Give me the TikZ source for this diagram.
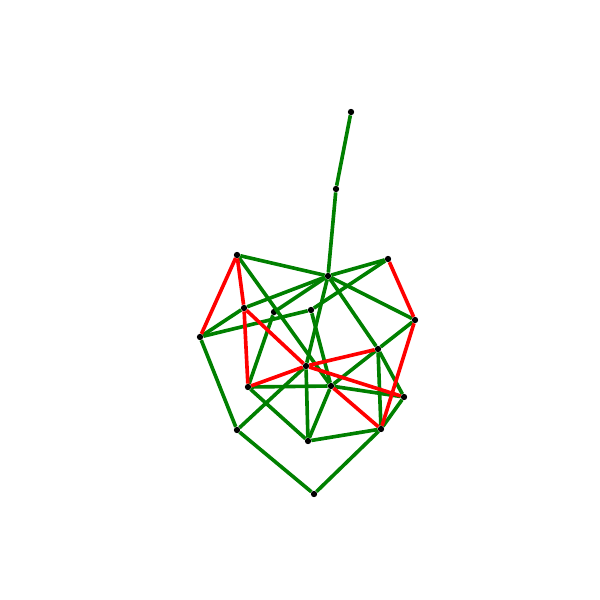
\documentclass[tikz,border=0pt]{standalone}
\usepackage{tikz}

\definecolor{edgegreen}{RGB}{0,128,0}
\definecolor{edgered}{RGB}{255,0,0}

\tikzset{
  dot/.style={circle,fill=black,inner sep=0pt,minimum size=0.19cm},
  gline/.style={line width=3.1pt,edgegreen},
  rline/.style={line width=3.1pt,edgered}
}

\begin{document}
\begin{tikzpicture}[x=0.03cm,y=-0.03cm]

            \useasboundingbox (0,0) rectangle (600,600);

            % nodes
            \node[dot] (S1) at (351,112) {};
            \node[dot] (S2) at (336,189) {};
            \node[dot] (B) at (328,276) {};
            \node[dot] (A) at (237,255) {};
            \node[dot] (C) at (388,259) {};
            \node[dot] (D) at (244,308) {};
            \node[dot] (E) at (274,312) {};
            \node[dot] (F) at (311,310) {};
            \node[dot] (G) at (415,320) {};
            \node[dot] (H) at (200,337) {};
            \node[dot] (I) at (378,349) {};
            \node[dot] (J) at (306,366) {};
            \node[dot] (K) at (248,387) {};
            \node[dot] (L) at (331,386) {};
            \node[dot] (M) at (404,397) {};
            \node[dot] (N) at (237,430) {};
            \node[dot] (O) at (308,441) {};
            \node[dot] (P) at (381,429) {};
            \node[dot] (Q) at (314,494) {};

            % green edges
            \draw[gline] (S1) to (S2);
            \draw[gline] (S2) to (B);
            \draw[gline] (A) to (B);
            \draw[gline] (A) to (L);
            \draw[gline] (B) to (C);
            \draw[gline] (B) to (D);
            \draw[gline] (B) to (E);
            \draw[gline] (B) to (G);
            \draw[gline] (B) to (I);
            \draw[gline] (B) to (J);
            \draw[gline] (H) to (D);
            \draw[gline] (H) to (F);
            \draw[gline] (H) to (N);
            \draw[gline] (F) to (C);
            \draw[gline] (F) to (L);
            \draw[gline] (E) to (K);
            \draw[gline] (K) to (L);
            \draw[gline] (K) to (O);
            \draw[gline] (J) to (O);
            \draw[gline] (N) to (J);
            \draw[gline] (L) to (O);
            \draw[gline] (I) to (L);
            \draw[gline] (I) to (G);
            \draw[gline] (I) to (M);
            \draw[gline] (I) to (P);
            \draw[gline] (L) to (M);
            \draw[gline] (M) to (P);
            \draw[gline] (O) to (P);
            \draw[gline] (N) to (Q);
            \draw[gline] (Q) to (P);

            % red edges
            \draw[rline] (A) to (H);
            \draw[rline] (A) to (D);
            \draw[rline] (D) to (K);
            \draw[rline] (D) to (J);
            \draw[rline] (K) to (J);
            \draw[rline] (J) to (I);
            \draw[rline] (J) to (M);
            \draw[rline] (L) to (P);
            \draw[rline] (C) to (G);
            \draw[rline] (G) to (P);
\end{tikzpicture}
\end{document}
